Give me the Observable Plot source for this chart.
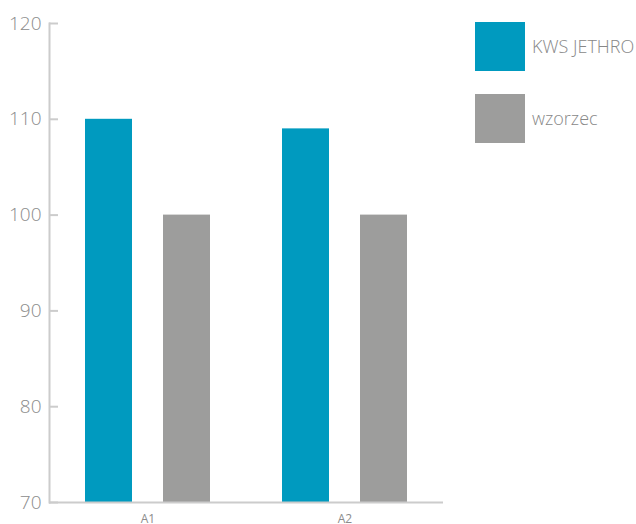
<!DOCTYPE html>
<html>
<head>
<meta charset="utf-8">
<script src="https://cdn.jsdelivr.net/npm/d3@7"></script>
<script src="https://cdn.jsdelivr.net/npm/@observablehq/plot@0.6"></script>
<style>
  html, body { margin: 0; padding: 0; background: #fff; }
  #wrap { position: relative; width: 636px; height: 524px; overflow: hidden; font-family: "Open Sans", sans-serif; }
  #chart { position: absolute; left: 0; top: 0; }
  .legend { position: absolute; left: 475px; }
  .legend .sw { position: absolute; left: 0; top: 0; width: 50px; height: 49px; }
  .legend .lb { position: absolute; left: 57px; top: 0; height: 49px; line-height: 49px; font-size: 18px; font-weight: 300; color: #888888; white-space: nowrap; }
</style>
</head>
<body>
<div id="wrap">
  <div id="chart"></div>
  <div id="legend"></div>
</div>
<script>
const groups = ["A1", "A2"];
const series = ["KWS JETHRO", "wzorzec"];
const kwsValues = [110, 109];
const wzorzecValues = [100, 100];
const yTicks = [70, 80, 90, 100, 110, 120];
const colors = ["#009abf", "#9d9d9c"];

const yMin = yTicks[0];
const rows = [];
groups.forEach((g, i) => {
  rows.push({group: g, series: series[0], value: kwsValues[i], base: yMin});
  rows.push({group: g, series: series[1], value: wzorzecValues[i], base: yMin});
});

const plot = Plot.plot({
  width: 636,
  height: 524,
  marginLeft: 48,
  marginRight: 193,
  marginTop: 23,
  marginBottom: 22,
  style: {fontFamily: "Open Sans, sans-serif", background: "transparent"},
  facet: {data: rows, x: "group"},
  fx: {domain: groups, padding: 0, label: null, tickSize: 0, tickPadding: 12, fontSize: 12},
  x: {domain: series, axis: null, paddingInner: 0.392, paddingOuter: 0.446},
  y: {domain: [yTicks[0], yTicks[yTicks.length - 1]], ticks: yTicks, label: null, tickSize: -9, tickPadding: 17, line: true},
  color: {domain: series, range: colors},
  marks: [
    Plot.barY(rows, {x: "series", y1: "base", y2: "value", fill: "series"}),
    Plot.ruleY([yMin], {stroke: "#cccccc", strokeWidth: 2})
  ]
});
document.getElementById("chart").appendChild(plot);

// style axes
const svg = d3.select(plot);
svg.selectAll("g").each(function() {
  const lab = this.getAttribute("aria-label") || "";
  if ((lab.startsWith("y-axis") && !lab.includes("label")) || lab === "frame") {
    d3.select(this).attr("stroke", "#cccccc").attr("stroke-width", 2);
    d3.select(this).selectAll("line, path, rect").attr("stroke", "#cccccc").attr("stroke-width", 2);
  }
});
svg.selectAll("[aria-label='y-axis tick label']").attr("font-size", 19).attr("font-weight", 300).attr("fill", "#8c8c8c");
svg.selectAll("[aria-label='fx-axis tick label']").attr("font-size", 12).attr("fill", "#8c8c8c");

// legend
const legend = document.getElementById("legend");
series.forEach((s, i) => {
  const item = document.createElement("div");
  item.className = "legend";
  item.style.top = (22 + i * 72) + "px";
  item.innerHTML = `<div class="sw" style="background:${colors[i]}"></div><div class="lb">${s}</div>`;
  legend.appendChild(item);
});
</script>
</body>
</html>
